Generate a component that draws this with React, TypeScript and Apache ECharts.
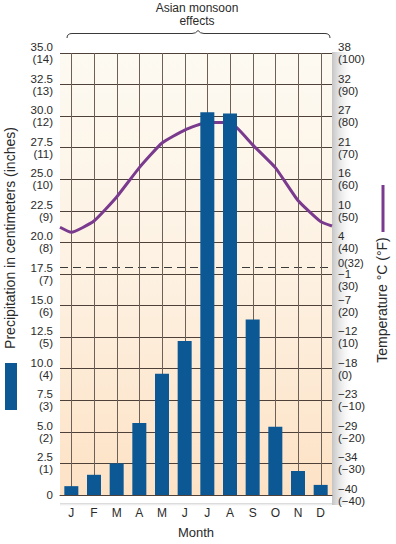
import React, { useEffect, useRef } from 'react';
import * as echarts from 'echarts';

// ---- data ----
const monthKeys = ['Jan', 'Feb', 'Mar', 'Apr', 'May', 'Jun', 'Jul', 'Aug', 'Sep', 'Oct', 'Nov', 'Dec'];
const monthLabels = ['J', 'F', 'M', 'A', 'M', 'J', 'J', 'A', 'S', 'O', 'N', 'D'];
// precipitation in cm
const precipCm = [0.7, 1.6, 2.5, 5.7, 9.6, 12.2, 30.3, 30.2, 13.9, 5.4, 1.9, 0.8];
// temperature in °F at month centres, plus the values where the line meets the plot edges
const tempF = [43.2, 46.8, 54.4, 63.7, 71.5, 75.6, 78, 78, 70.9, 63.7, 53.3, 46.6];
const tempEdgeStartF = 44.8;
const tempEdgeEndF = 45.2;
const freezingF = 32;
const freezingLabel = '0(32)';

// tick labels
const precipTicks = [0, 2.5, 5, 7.5, 10, 12.5, 15, 17.5, 20, 22.5, 25, 27.5, 30, 32.5, 35];
const precipLabelsCm = ['0', '2.5', '5.0', '7.5', '10.0', '12.5', '15.0', '17.5', '20.0', '22.5', '25.0', '27.5', '30.0', '32.5', '35.0'];
const precipLabelsIn = ['', '(1)', '(2)', '(3)', '(4)', '(5)', '(6)', '(7)', '(8)', '(9)', '(10)', '(11)', '(12)', '(13)', '(14)'];
const tempTicksF = [-40, -30, -20, -10, 0, 10, 20, 30, 40, 50, 60, 70, 80, 90, 100];
const tempLabelsC = ['−40', '−34', '−29', '−23', '−18', '−12', '−7', '−1', '4', '10', '16', '21', '27', '32', '38'];
const tempLabelsF = ['(−40)', '(−30)', '(−20)', '(−10)', '(0)', '(10)', '(20)', '(30)', '(40)', '(50)', '(60)', '(70)', '(80)', '(90)', '(100)'];

const topTitle = 'Asian monsoon\neffects';
const leftTitle = 'Precipitation in centimeters (inches)';
const rightTitle = 'Temperature °C (°F)';
const xTitle = 'Month';

const FONT = '"Liberation Sans", Arial, Helvetica, sans-serif';
const TXT = '#2a2a2a';
const BLUE = '#0b5894';
const PURPLE = '#7a3a8e';
const GRID_H = '#4d4139';
const GRID_V = '#6c6057';

const BRACE =
  'M67,38 Q67,33.5 72,33.5 L192,33.5 Q196,33.5 198,30.5 Q200,33.5 204,33.5 L325,33.5 Q330,33.5 330,38';

export default function App() {
  const ref = useRef<HTMLDivElement>(null);
  useEffect(() => {
    if (!ref.current) return;
    try {
      echarts.graphic.registerShape('brace', echarts.graphic.extendPath(BRACE, {}) as any);
    } catch (e) {}
    const chart = echarts.init(ref.current, undefined, { renderer: 'svg' });

    const lineData: number[][] = [
      [0, tempEdgeStartF],
      ...tempF.map((t, i) => [i + 0.5, t]),
      [monthKeys.length, tempEdgeEndF],
    ];

    const option: any = {
      animation: false,
      textStyle: { fontFamily: FONT },
      grid: {
        left: 60,
        right: 64,
        top: 53,
        bottom: 41,
        show: true,
        borderWidth: 0,
        backgroundColor: new echarts.graphic.LinearGradient(0, 0, 0, 1, [
          { offset: 0, color: '#fdfaf2' },
          { offset: 0.5, color: '#fdf1e2' },
          { offset: 1, color: '#fde2c5' },
        ]),
      },
      xAxis: [
        {
          type: 'category',
          data: monthKeys,
          boundaryGap: true,
          axisLine: { show: true, lineStyle: { color: GRID_H, width: 1 } },
          axisTick: { show: false },
          splitLine: { show: false },
          axisLabel: {
            formatter: (_v: string, i: number) => monthLabels[i],
            color: TXT,
            fontSize: 12,
            fontFamily: FONT,
            margin: 12,
          },
          name: xTitle,
          nameLocation: 'middle',
          nameGap: 31,
          nameTextStyle: { color: TXT, fontSize: 13, fontFamily: FONT },
        },
        {
          type: 'value',
          min: 0,
          max: monthKeys.length,
          show: false,
        },
      ],
      yAxis: [
        {
          type: 'value',
          min: 0,
          max: 35,
          interval: 2.5,
          axisLine: { show: false },
          axisTick: { show: false },
          splitLine: { show: true, lineStyle: { color: GRID_H, width: 1 } },
          axisLabel: {
            color: TXT,
            fontSize: 11.5,
            lineHeight: 12,
            fontFamily: FONT,
            margin: 7,
            align: 'right',
            formatter: (v: number) => {
              const i = precipTicks.findIndex((t) => Math.abs(t - v) < 1e-6);
              if (i < 0) return '';
              return precipLabelsIn[i] ? `${precipLabelsCm[i]}\n${precipLabelsIn[i]}` : precipLabelsCm[i];
            },
          },
        },
        {
          type: 'value',
          min: -40,
          max: 100,
          interval: 10,
          position: 'right',
          axisLine: { show: false },
          axisTick: { show: false },
          splitLine: { show: false },
          axisLabel: {
            color: TXT,
            fontSize: 11.5,
            lineHeight: 12,
            fontFamily: FONT,
            margin: 6,
            align: 'left',
            formatter: (v: number) => {
              const i = tempTicksF.indexOf(v);
              if (i < 0) return '';
              return v === 30 ? `\n${tempLabelsC[i]}\n${tempLabelsF[i]}` : `${tempLabelsC[i]}\n${tempLabelsF[i]}`;
            },
          },
        },
      ],
      series: [
        {
          type: 'custom',
          xAxisIndex: 0,
          yAxisIndex: 0,
          z: 1,
          silent: true,
          data: monthKeys.map((_m, i) => [i, 0]),
          renderItem: (_p: any, api: any) => {
            const b = api.coord([api.value(0), 0]);
            const t = api.coord([api.value(0), 35]);
            return {
              type: 'line',
              shape: { x1: Math.round(b[0]) + 0.5, y1: b[1], x2: Math.round(t[0]) + 0.5, y2: t[1] },
              style: { stroke: GRID_V, lineWidth: 1 },
            };
          },
        },
        {
          type: 'line',
          xAxisIndex: 1,
          yAxisIndex: 1,
          data: lineData,
          smooth: 0.15,
          symbol: 'none',
          z: 2,
          lineStyle: { color: PURPLE, width: 3 },
          markLine: {
            silent: true,
            z: 1,
            symbol: ['none', 'none'],
            lineStyle: { color: '#3a3a3a', type: [8, 5], width: 1 },
            label: {
              show: true,
              position: 'end',
              formatter: `{f|${freezingLabel}}`,
              distance: 6,
              rich: {
                f: { fontSize: 11, lineHeight: 11, fontFamily: FONT, color: TXT, padding: [0, 0, 10, 0] },
              },
            },
            data: [{ yAxis: freezingF }],
          },
        },
        {
          type: 'bar',
          xAxisIndex: 0,
          yAxisIndex: 0,
          data: precipCm,
          barWidth: 14,
          z: 3,
          itemStyle: { color: BLUE },
        },
      ],
      graphic: [
        {
          type: 'rect',
          z: -1,
          silent: true,
          shape: { x: 332, y: 52, width: 22, height: 453 },
          style: {
            fill: new echarts.graphic.LinearGradient(0, 0, 1, 0, [
              { offset: 0, color: '#c4c4c4' },
              { offset: 1, color: 'rgba(255,255,255,0)' },
            ]),
          },
        },
        {
          type: 'rect',
          z: -1,
          silent: true,
          shape: { x: 60, y: 503, width: 272, height: 4 },
          style: {
            fill: new echarts.graphic.LinearGradient(0, 0, 0, 1, [
              { offset: 0, color: '#d2d2d2' },
              { offset: 1, color: 'rgba(255,255,255,0)' },
            ]),
          },
        },
        {
          type: 'text',
          x: 197,
          y: 14,
          style: {
            text: topTitle,
            align: 'center',
            verticalAlign: 'middle',
            fontSize: 12,
            lineHeight: 13,
            fontFamily: FONT,
            fill: TXT,
          },
        },
        {
          type: 'brace',
          x: 0,
          y: 0,
          shape: {},
          style: { stroke: '#3a3a3a', fill: 'none', lineWidth: 1 },
        },
        {
          type: 'text',
          x: 10,
          y: 238,
          rotation: Math.PI / 2,
          style: {
            text: leftTitle,
            align: 'center',
            verticalAlign: 'middle',
            fontSize: 14,
            fontFamily: FONT,
            fill: TXT,
          },
        },
        {
          type: 'rect',
          shape: { x: 5, y: 363, width: 12, height: 47 },
          style: { fill: BLUE },
        },
        {
          type: 'text',
          x: 382,
          y: 300,
          rotation: Math.PI / 2,
          style: {
            text: rightTitle,
            align: 'center',
            verticalAlign: 'middle',
            fontSize: 14,
            fontFamily: FONT,
            fill: TXT,
          },
        },
        {
          type: 'line',
          shape: { x1: 383, y1: 185, x2: 383, y2: 232 },
          style: { stroke: PURPLE, lineWidth: 3 },
        },
      ],
    };
    chart.setOption(option);
    return () => chart.dispose();
  }, []);
  return <div ref={ref} style={{ width: 396, height: 544, position: 'absolute', left: 0, top: 0, background: '#fff' }} />;
}
